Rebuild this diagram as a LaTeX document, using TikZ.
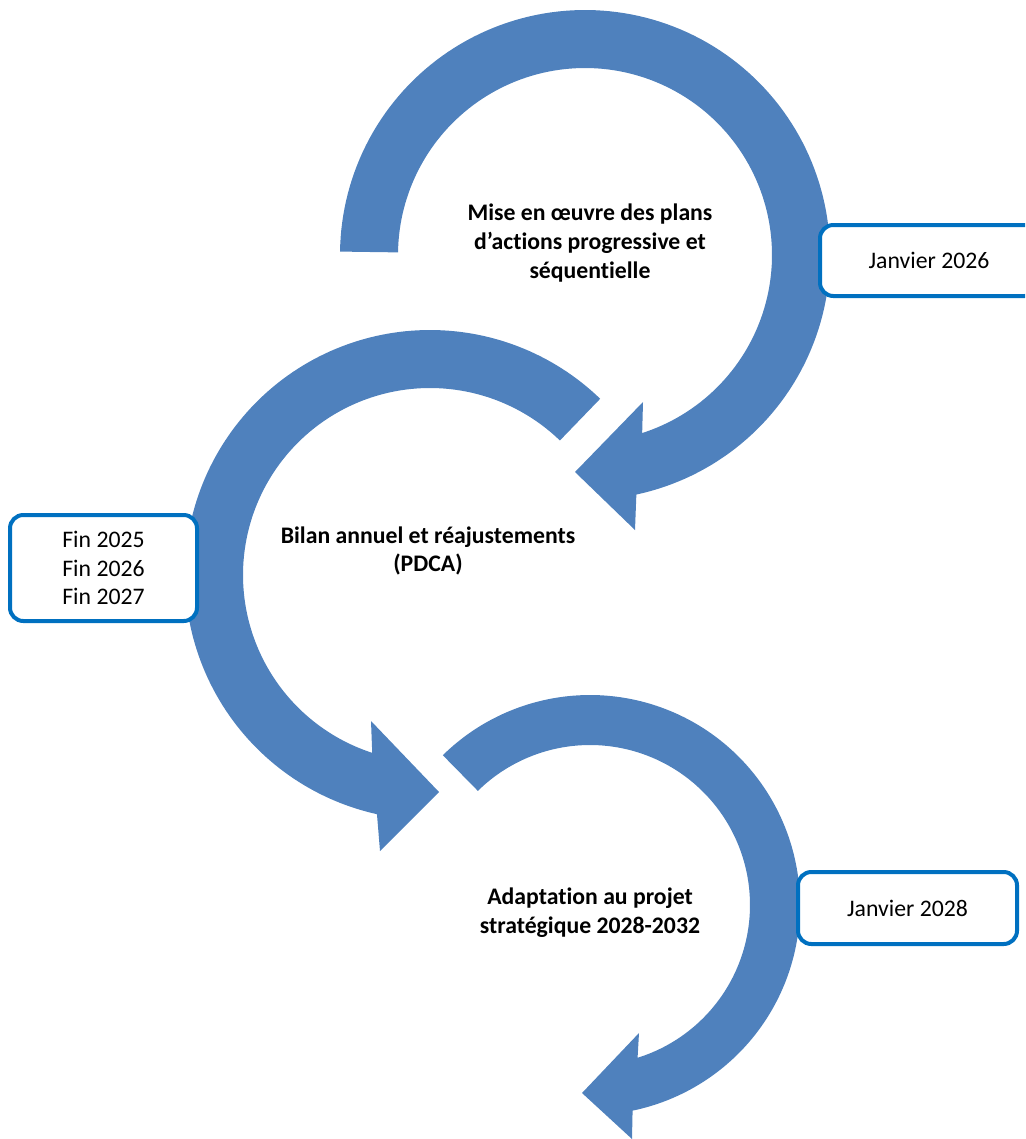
\documentclass[tikz,border=0pt]{standalone}
\usepackage{fontspec}
\setmainfont{Carlito}[Ligatures=NoCommon]
\definecolor{arrowblue}{HTML}{4F81BD}
\definecolor{boxblue}{HTML}{0070C0}
\begin{document}
\begin{tikzpicture}[x=0.75pt,y=-0.75pt,
  arrowshape/.style={fill=arrowblue, draw=none},
  datebox/.style={draw=boxblue, line width=3pt, fill=white, rounded corners=10pt, inner sep=0pt},
  datetext/.style={font=\fontsize{17.8}{21.4}\selectfont, align=center},
  steptext/.style={font=\bfseries\fontsize{17.8}{21.6}\selectfont, align=center, inner sep=0pt}]
\useasboundingbox (0,0) rectangle (1025,1139);
\clip (0,0) rectangle (1025,1139);

% arc 1 (clockwise from left)
\fill[arrowshape] plot[domain=180.8:437.9, samples=150] ({585+245*cos(\x)},{255+245*sin(\x)})
  -- (635,530) -- (575,472) -- (643,402)
  -- plot[domain=432.2:180.8, samples=150] ({585+187*cos(\x)},{255+187*sin(\x)}) -- cycle;

% arc 2 (counter-clockwise from upper right)
\fill[arrowshape] plot[domain=-46:-257.5, samples=150] ({430+245*cos(\x)},{575+245*sin(\x)})
  -- (380,851) -- (439,792) -- (371,721)
  -- plot[domain=-252:-46, samples=150] ({430+187*cos(\x)},{575+187*sin(\x)}) -- cycle;

% arc 3 (clockwise from upper left)
\fill[arrowshape] plot[domain=225.5:438.3, samples=150] ({590+210*cos(\x)},{905+210*sin(\x)})
  -- (632,1139) -- (582,1093) -- (639,1033)
  -- plot[domain=432.7:225.5, samples=150] ({590+160*cos(\x)},{905+160*sin(\x)}) -- cycle;

% step texts
\node[steptext] (t1) at (590,243) {Mise en œuvre des plans\\d’actions progressive et\\séquentielle};
\node[steptext] (t2) at (428,551) {Bilan annuel et réajustements\\(PDCA)};
\node[steptext] (t3) at (590,913) {Adaptation au projet\\stratégique 2028-2032};

% date boxes
\node[datebox, datetext, minimum width=163.5pt, minimum height=53.25pt] (d1) at (929,260.5) {Janvier 2026};
\node[datebox, datetext, minimum width=140.25pt, minimum height=79.5pt] (d2) at (103.5,568) {Fin 2025\\Fin 2026\\Fin 2027};
\node[datebox, datetext, minimum width=164.25pt, minimum height=54pt] (d3) at (907.5,908) {Janvier 2028};
\end{tikzpicture}
\end{document}
